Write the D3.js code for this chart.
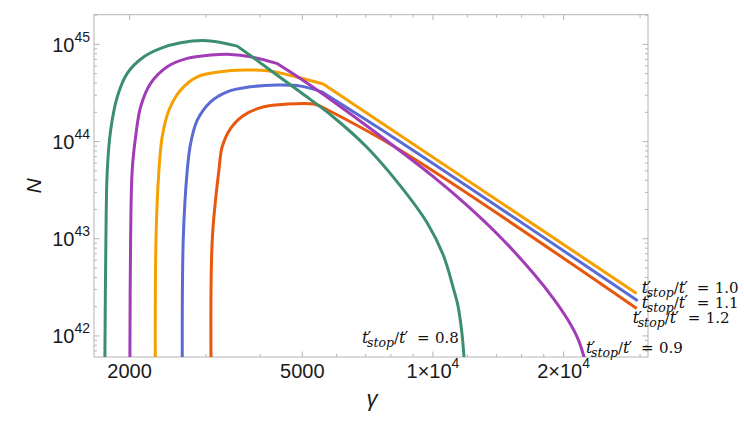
<!DOCTYPE html>
<html>
<head>
<meta charset="utf-8">
<script src="https://cdn.jsdelivr.net/npm/d3@7"></script>
<style>
  html, body { margin: 0; padding: 0; background: #ffffff; }
  svg { display: block; }
</style>
</head>
<body>
<svg id="chart" width="744" height="423"></svg>
<script>
// ---------------- data ----------------
const seriesRatios = ["0.8", "0.9", "1.0", "1.1", "1.2"];

const gamma08 = [1754, 1764, 1777, 1809, 1874, 1975, 2158, 2358, 2623, 3020, 3541, 4937, 5885, 7035, 8394, 9672, 10560, 11140, 11420, 11660, 11790, 11850];
const N08     = [5e41, 1e43, 5.09e43, 1.31e44, 2.89e44, 5.03e44, 7.45e44, 9.1e44, 1.04e45, 1.09e45, 9.6e44, 3.25e44, 1.8e44, 8.78e43, 3.54e43, 1.485e43, 6.8e42, 3.11e42, 2.03e42, 1.07e42, 6.07e41, 4.46e41];

const gamma09 = [2003, 2011, 2028, 2065, 2121, 2236, 2442, 2716, 3074, 3419, 3802, 4364, 4937, 5893, 7684, 10016, 11960, 14270, 17030, 18930, 20470, 21590, 22280, 22510];
const N09     = [5e41, 1e43, 5.09e43, 1.12e44, 2.28e44, 3.97e44, 5.89e44, 7.18e44, 7.76e44, 7.89e44, 7.45e44, 6.38e44, 4.47e44, 2.58e44, 1.08e44, 4.35e43, 2.22e43, 1.05e43, 4.41e42, 2.44e42, 1.458e42, 9.29e41, 6.07e41, 4.9e41];

const gamma10 = [2292, 2301, 2337, 2378, 2465, 2623, 2864, 3242, 3668, 4152, 4600, 5588, 29470];
const N10     = [5e41, 1e43, 5.09e43, 1.12e44, 2.11e44, 3.39e44, 4.64e44, 5.23e44, 5.45e44, 5.35e44, 4.9e44, 3.91e44, 2.74e42];

const gamma11 = [2645, 2659, 2716, 2765, 2864, 3074, 3357, 3802, 4377, 4957, 5540, 8394, 29630];
const N11     = [5e41, 1e43, 5.09e43, 9.57e43, 1.66e44, 2.56e44, 3.25e44, 3.66e44, 3.81e44, 3.72e44, 3.25e44, 9.96e43, 2.30e42];

const gamma12 = [3081, 3102, 3213, 3269, 3419, 3668, 4080, 4617, 5318, 5540, 8394, 29470];
const N12     = [5e41, 1e43, 5.09e43, 8.85e43, 1.37e44, 1.87e44, 2.28e44, 2.43e44, 2.43e44, 2.28e44, 8.19e43, 1.92e42];

// index of the point where each curve breaks into its steep tail
const kinkIndex = [10, 11, 11, 10, 9];

const xDomain = [1656, 31290];
const yDomain = [6.07e41, 2.02e45];

const xMajorTicks = [2000, 5000, 10000, 20000];
const xTickLabels = [["2000"], ["5000"], ["1\u00d710", "4"], ["2\u00d710", "4"]];
const xMinorTicks = [3000, 4000, 6000, 7000, 8000, 9000, 12000, 14000, 16000, 18000, 30000];
const yMajorExps  = [42, 43, 44, 45];
const yMinorMults = [2, 3, 4, 5, 6, 7, 8, 9];

// ---------------- styles / layout ----------------
const colors = ["#3c8f6e", "#a23cb6", "#f5a000", "#5a6bd1", "#e8580c"];
const drawOrder = [4, 3, 2, 1, 0];
// label placement relative to each curve's end (px)
const labelOffsets = [
  {dx: -102, dy: -14}, // 0.8
  {dx: 2, dy: -4},     // 0.9
  {dx: 5, dy: 0},      // 1.0
  {dx: 4, dy: 7},      // 1.1
  {dx: -4, dy: 15}     // 1.2
];

const pLeft = 94, pRight = 648, pTop = 14.7, pBottom = 357;
const svg = d3.select("#chart");
const x = d3.scaleLog().domain(xDomain).range([pLeft, pRight]);
const y = d3.scaleLog().domain(yDomain).range([pBottom, pTop]);

const gammas = [gamma08, gamma09, gamma10, gamma11, gamma12];
const Ns = [N08, N09, N10, N11, N12];
const series = seriesRatios.map((r, i) => ({
  ratio: r,
  pts: gammas[i].map((g, j) => [g, Ns[i][j]])
}));

svg.append("defs").append("clipPath").attr("id", "clip")
  .append("rect").attr("x", pLeft).attr("y", pTop)
  .attr("width", pRight - pLeft).attr("height", pBottom - pTop);

// frame
const frameColor = "#b4b4b4";
svg.append("rect")
  .attr("x", pLeft).attr("y", pTop)
  .attr("width", pRight - pLeft).attr("height", pBottom - pTop)
  .attr("fill", "none").attr("stroke", frameColor).attr("stroke-width", 1);

// ticks
const tickG = svg.append("g").attr("stroke", frameColor).attr("stroke-width", 1);
function xTick(v, len) {
  const px = x(v);
  tickG.append("line").attr("x1", px).attr("x2", px).attr("y1", pBottom).attr("y2", pBottom - len);
  tickG.append("line").attr("x1", px).attr("x2", px).attr("y1", pTop).attr("y2", pTop + len);
}
function yTick(v, len) {
  const py = y(v);
  tickG.append("line").attr("y1", py).attr("y2", py).attr("x1", pLeft).attr("x2", pLeft + len);
  tickG.append("line").attr("y1", py).attr("y2", py).attr("x1", pRight).attr("x2", pRight - len);
}
xMajorTicks.forEach(v => xTick(v, 5.5));
xMinorTicks.filter(v => v > xDomain[0] && v < xDomain[1]).forEach(v => xTick(v, 3));
yMajorExps.forEach(e => yTick(Math.pow(10, e), 5.5));
for (let e = 41; e <= 45; e++) {
  yMinorMults.forEach(m => {
    const v = m * Math.pow(10, e);
    if (v > yDomain[0] && v < yDomain[1]) yTick(v, 3);
  });
}

// tick labels
const sans = "'Liberation Sans', Arial, sans-serif";
yMajorExps.forEach(e => {
  const py = y(Math.pow(10, e));
  const t = svg.append("text")
    .attr("x", 90).attr("y", py + 7.3)
    .attr("text-anchor", "end")
    .attr("font-family", sans).attr("font-size", 20).attr("fill", "#1a1a1a");
  t.append("tspan").text("10");
  t.append("tspan").attr("dy", -10).attr("font-size", 14).text(String(e));
});
xMajorTicks.forEach((v, i) => {
  const lab = xTickLabels[i];
  const t = svg.append("text")
    .attr("x", x(v)).attr("y", 378)
    .attr("text-anchor", "middle")
    .attr("font-family", sans).attr("font-size", 20).attr("fill", "#1a1a1a");
  t.append("tspan").text(lab[0]);
  if (lab.length > 1) t.append("tspan").attr("dy", -10).attr("font-size", 14).text(lab[1]);
});

// axis titles
svg.append("text")
  .attr("transform", "translate(41,186) rotate(-90)")
  .attr("text-anchor", "middle")
  .attr("font-family", sans).attr("font-style", "italic").attr("font-size", 21).attr("fill", "#1a1a1a")
  .text("N");
svg.append("text")
  .attr("x", 372).attr("y", 406)
  .attr("text-anchor", "middle")
  .attr("font-family", sans).attr("font-style", "italic").attr("font-size", 22).attr("fill", "#1a1a1a")
  .text("\u03b3");

// curves: smooth head up to the kink, smooth tail after it, joined sharply
const line = d3.line().x(d => x(d[0])).y(d => y(d[1])).curve(d3.curveCatmullRom.alpha(0.5));
const curveG = svg.append("g").attr("clip-path", "url(#clip)");
drawOrder.forEach(i => {
  const k = kinkIndex[i];
  const head = series[i].pts.slice(0, k + 1);
  const tail = series[i].pts.slice(k);
  const d = line(head) + "L" + line(tail).slice(1);
  curveG.append("path")
    .attr("d", d)
    .attr("fill", "none")
    .attr("stroke", colors[i])
    .attr("stroke-width", 3)
    .attr("stroke-linejoin", "round")
    .attr("stroke-linecap", "butt");
});

// curve labels  t'_stop / t' = value
const serif = "'DejaVu Serif', 'Liberation Serif', serif";
function drawLabel(x0, y0, value) {
  const t = svg.append("text")
    .attr("x", x0).attr("y", y0)
    .attr("font-family", serif).attr("font-size", 15).attr("fill", "#111");
  t.append("tspan").attr("x", x0).attr("y", y0).attr("font-style", "italic").attr("font-size", 16).text("t");
  t.append("tspan").attr("x", x0 + 5.5).attr("y", y0 - 0.5).attr("font-size", 17).text("\u2032");
  t.append("tspan").attr("x", x0 + 5).attr("y", y0 + 4).attr("font-style", "italic").attr("font-size", 12.5).text("stop");
  t.append("tspan").attr("x", x0 + 32).attr("y", y0).text("/");
  t.append("tspan").attr("x", x0 + 37).attr("y", y0).attr("font-style", "italic").attr("font-size", 16).text("t");
  t.append("tspan").attr("x", x0 + 42.5).attr("y", y0 - 0.5).attr("font-size", 17).text("\u2032");
  t.append("tspan").attr("x", x0 + 55).attr("y", y0).text("=");
  t.append("tspan").attr("x", x0 + 73).attr("y", y0).text(value);
}
series.forEach((s, i) => {
  // end of the curve: where it leaves the frame, or its last point
  const vis = s.pts.filter(p => p[1] >= yDomain[0] * 0.999);
  const lastPt = vis[vis.length - 1];
  const lx = x(lastPt[0]);
  const ly = y(lastPt[1]);
  drawLabel(lx + labelOffsets[i].dx, ly + labelOffsets[i].dy, s.ratio);
});
</script>
</body>
</html>
